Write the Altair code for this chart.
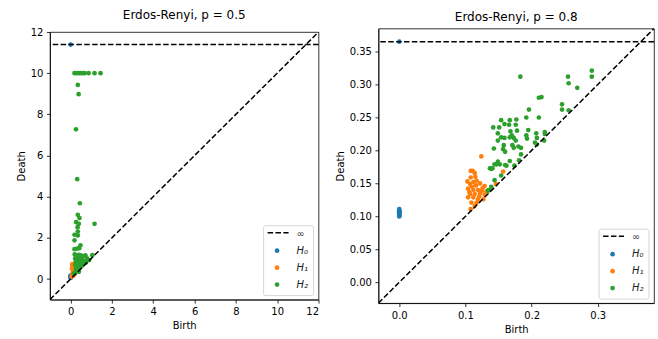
import altair as alt
import pandas as pd

FONT = "DejaVu Sans"
COLORS = ["#1f77b4", "#ff7f0e", "#2ca02c"]
DIMS = ["H0", "H1", "H2"]
LEGEND_LABELS = ["\u221e", "H\u2080", "H\u2081", "H\u2082"]

# ---------------- Panel 1: Erdos-Renyi, p = 0.5 ----------------
L_TITLE = "Erdos-Renyi, p = 0.5"
L_DOMAIN = [-1.0, 12.0]
L_TICKS = [0, 2, 4, 6, 8, 10, 12]
L_INF = 11.39
L_H0_BIRTH = [0, 0, 0, 0, 0, 0]
L_H0_DEATH = [11.39, 0.17, 0.13, 0.10, 0.07, 0.05]
L_H1_BIRTH = [0.05, 0.08, 0.10, 0.12, 0.10, 0.08, 0.15, 0.18, 0.12, 0.20, 0.14, 0.06, 0.16, 0.10, 0.20, 0.09, 0.13]
L_H1_DEATH = [0.12, 0.20, 0.30, 0.45, 0.60, 0.72, 0.25, 0.22, 0.15, 0.30, 0.38, 0.50, 0.55, 0.18, 0.25, 0.65, 0.34]
L_H2_BIRTH = [0.19, 0.29, 0.39, 0.48, 0.58, 0.68, 0.87, 1.16, 1.45,
              0.35, 0.39, 0.26, 0.32, 0.45, 0.35, 0.43, 0.27, 0.40, 1.16, 0.34, 0.35,
              0.19, 0.35, 0.19, 0.48, 0.19, 0.32, 0.42,
              0.20, 0.30, 0.40, 0.50, 0.60, 0.72, 0.80, 0.90, 0.22, 0.25, 0.22, 0.30,
              0.25, 0.30, 0.35, 0.40, 0.45, 0.50, 0.55, 0.35, 0.45, 0.60, 0.65, 0.70,
              0.40, 0.50, 0.30, 0.20, 0.25, 0.15, 0.60, 0.75, 0.55, 1.05, 0.30, 0.38]
L_H2_DEATH = [10.0, 10.0, 10.0, 10.0, 10.0, 10.0, 10.0, 10.0, 10.0,
              9.43, 8.98, 7.27, 4.85, 3.68, 3.12, 2.96, 2.76, 2.68, 2.68, 2.52, 2.31,
              2.15, 2.12, 1.88, 1.64, 1.45, 1.48, 1.50,
              1.20, 1.15, 1.18, 1.15, 1.10, 1.15, 1.00, 0.92, 1.00, 0.85, 0.70, 0.60,
              0.50, 0.40, 0.45, 0.55, 0.70, 0.85, 0.95, 1.00, 1.05, 0.80, 0.75, 0.85,
              0.35, 0.60, 0.80, 0.30, 0.35, 0.25, 0.90, 0.80, 0.65, 1.16, 0.95, 0.85]

# ---------------- Panel 2: Erdos-Renyi, p = 0.8 ----------------
R_TITLE = "Erdos-Renyi, p = 0.8"
R_DOMAIN = [-0.0315, 0.385]
R_XTICKS = [0.0, 0.1, 0.2, 0.3]
R_YTICKS = [0.0, 0.05, 0.10, 0.15, 0.20, 0.25, 0.30, 0.35]
R_INF = 0.365
R_H0_BIRTH = [0, 0, 0, 0, 0, 0, 0, 0, 0, 0, 0, 0]
R_H0_DEATH = [0.365, 0.100, 0.101, 0.102, 0.103, 0.104, 0.105, 0.106, 0.107, 0.108, 0.109, 0.111]
R_H1_BIRTH = [0.124, 0.108, 0.111, 0.157, 0.114, 0.108, 0.117, 0.122, 0.107, 0.129, 0.146, 0.104,
              0.112, 0.119, 0.107, 0.114, 0.122, 0.129, 0.104, 0.112, 0.119, 0.127, 0.109, 0.117,
              0.114, 0.108, 0.110, 0.116, 0.125, 0.132, 0.115, 0.106, 0.121, 0.103, 0.112, 0.126,
              0.135]
R_H1_DEATH = [0.191, 0.169, 0.169, 0.168, 0.166, 0.159, 0.154, 0.150, 0.149, 0.146, 0.149, 0.142,
              0.140, 0.140, 0.134, 0.134, 0.135, 0.133, 0.129, 0.129, 0.126, 0.126, 0.121, 0.121,
              0.116, 0.111, 0.145, 0.147, 0.139, 0.138, 0.160, 0.137, 0.130, 0.153, 0.152, 0.143,
              0.140]
R_H2_BIRTH = [0.183, 0.255, 0.291, 0.291, 0.256, 0.269, 0.211, 0.215, 0.196, 0.246, 0.246, 0.256,
              0.211, 0.192, 0.177, 0.154, 0.167, 0.159, 0.166, 0.176, 0.142, 0.151, 0.195, 0.178,
              0.168, 0.149, 0.207, 0.220, 0.220, 0.170, 0.192, 0.154, 0.159, 0.167, 0.173, 0.193,
              0.208, 0.149, 0.176, 0.205, 0.219, 0.158, 0.171, 0.173, 0.180, 0.184, 0.143, 0.208,
              0.160, 0.184, 0.181, 0.167, 0.149, 0.144, 0.152, 0.160, 0.174, 0.137, 0.141, 0.162,
              0.139, 0.154, 0.144, 0.139, 0.136, 0.134, 0.147, 0.157]
R_H2_DEATH = [0.312, 0.312, 0.321, 0.312, 0.302, 0.295, 0.280, 0.281, 0.262, 0.270, 0.262, 0.261,
              0.250, 0.250, 0.247, 0.246, 0.246, 0.240, 0.239, 0.239, 0.235, 0.235, 0.231, 0.230,
              0.229, 0.226, 0.226, 0.228, 0.225, 0.223, 0.223, 0.220, 0.219, 0.220, 0.219, 0.218,
              0.219, 0.215, 0.215, 0.212, 0.215, 0.208, 0.208, 0.204, 0.206, 0.204, 0.203, 0.209,
              0.198, 0.194, 0.185, 0.184, 0.183, 0.179, 0.179, 0.178, 0.177, 0.173, 0.173, 0.177,
              0.172, 0.162, 0.155, 0.145, 0.140, 0.139, 0.179, 0.202]

DASH = [5.5, 2.4]


def points_frame(h0b, h0d, h1b, h1d, h2b, h2d):
    rows = []
    for dim, bs, ds in zip(DIMS, [h0b, h1b, h2b], [h0d, h1d, h2d]):
        for b, d in zip(bs, ds):
            rows.append({"birth": b, "death": d, "dim": dim})
    return pd.DataFrame(rows)


def legend_layers(w, h):
    one = pd.DataFrame({"k": [0]})
    bx1, bx2 = w - 55, w - 5
    by1, by2 = h - 74, h - 4
    layers = [
        alt.Chart(one).mark_rect(fill="white", fillOpacity=0.8, stroke="#cccccc",
                                 strokeWidth=0.8, cornerRadius=2).encode(
            x=alt.value(bx1), x2=alt.value(bx2), y=alt.value(by1), y2=alt.value(by2)),
        alt.Chart(one).mark_rule(color="black", strokeWidth=1.5, strokeDash=DASH).encode(
            x=alt.value(bx1 + 4), x2=alt.value(bx1 + 25), y=alt.value(by1 + 7)),
        alt.Chart(one).mark_text(text=LEGEND_LABELS[0], font=FONT, fontSize=10, align="left",
                                 baseline="middle", color="#333333").encode(
            x=alt.value(bx1 + 33), y=alt.value(by1 + 8)),
    ]
    for i in range(3):
        yy = by1 + 25 + 17 * i
        layers.append(alt.Chart(one).mark_circle(size=22, opacity=1, color=COLORS[i]).encode(
            x=alt.value(bx1 + 13.5), y=alt.value(yy)))
        layers.append(alt.Chart(one).mark_text(text=LEGEND_LABELS[i + 1], font=FONT, fontSize=10,
                                               fontStyle="italic", align="left", baseline="middle",
                                               color="#222222").encode(
            x=alt.value(bx1 + 33), y=alt.value(yy)))
    return layers


def panel(title, df, domain, inf, xticks, yticks, xfmt, yfmt, w, h):
    xs = alt.Scale(domain=domain, nice=False, zero=False)
    ys = alt.Scale(domain=domain, nice=False, zero=False)
    xax = alt.Axis(values=xticks, format=xfmt, title="Birth", labelOverlap=False, tickCount=len(xticks))
    yax = alt.Axis(values=yticks, format=yfmt, title="Death", labelOverlap=False, tickCount=len(yticks))
    pts = alt.Chart(df).mark_circle(size=22, opacity=1).encode(
        x=alt.X("birth:Q", scale=xs, axis=xax),
        y=alt.Y("death:Q", scale=ys, axis=yax),
        color=alt.Color("dim:N", scale=alt.Scale(domain=DIMS, range=COLORS), legend=None),
    )
    diag = alt.Chart(pd.DataFrame({"birth": domain, "death": domain})).mark_line(
        color="black", strokeWidth=1.5, strokeDash=DASH, clip=True).encode(
        x=alt.X("birth:Q", scale=xs, axis=xax),
        y=alt.Y("death:Q", scale=ys, axis=yax))
    infl = alt.Chart(pd.DataFrame({"death": [inf]})).mark_rule(
        color="black", strokeWidth=1.5, strokeDash=DASH).encode(
        y=alt.Y("death:Q", scale=ys, axis=yax))
    return alt.layer(pts, diag, infl, *legend_layers(w, h)).properties(
        width=w, height=h,
        title=alt.TitleParams(title, fontSize=12, font=FONT, fontWeight="normal",
                              color="black", offset=5),
    )


left = panel(L_TITLE,
             points_frame(L_H0_BIRTH, L_H0_DEATH, L_H1_BIRTH, L_H1_DEATH, L_H2_BIRTH, L_H2_DEATH),
             L_DOMAIN, L_INF, L_TICKS, L_TICKS, "d", "d", 269, 268)
right = panel(R_TITLE,
              points_frame(R_H0_BIRTH, R_H0_DEATH, R_H1_BIRTH, R_H1_DEATH, R_H2_BIRTH, R_H2_DEATH),
              R_DOMAIN, R_INF, R_XTICKS, R_YTICKS, ".1f", ".2f", 276, 275)

chart = alt.hconcat(left, right, spacing=14, center=True).properties(
    padding={"left": 15, "top": 8, "right": 2, "bottom": 2},
    background="white",
).configure_view(stroke="black", strokeWidth=0.8).configure_axis(
    grid=False, domainColor="black", domainWidth=0.8, tickColor="black", tickWidth=0.8,
    tickSize=3.5, labelFont=FONT, labelFontSize=10, labelColor="black", labelPadding=3.5,
    titleFont=FONT, titleFontSize=10, titleFontWeight="normal", titleColor="black",
    titlePadding=4, labelOverlap=False,
)

chart.save("out.html", embed_options={"renderer": "svg", "actions": False})
